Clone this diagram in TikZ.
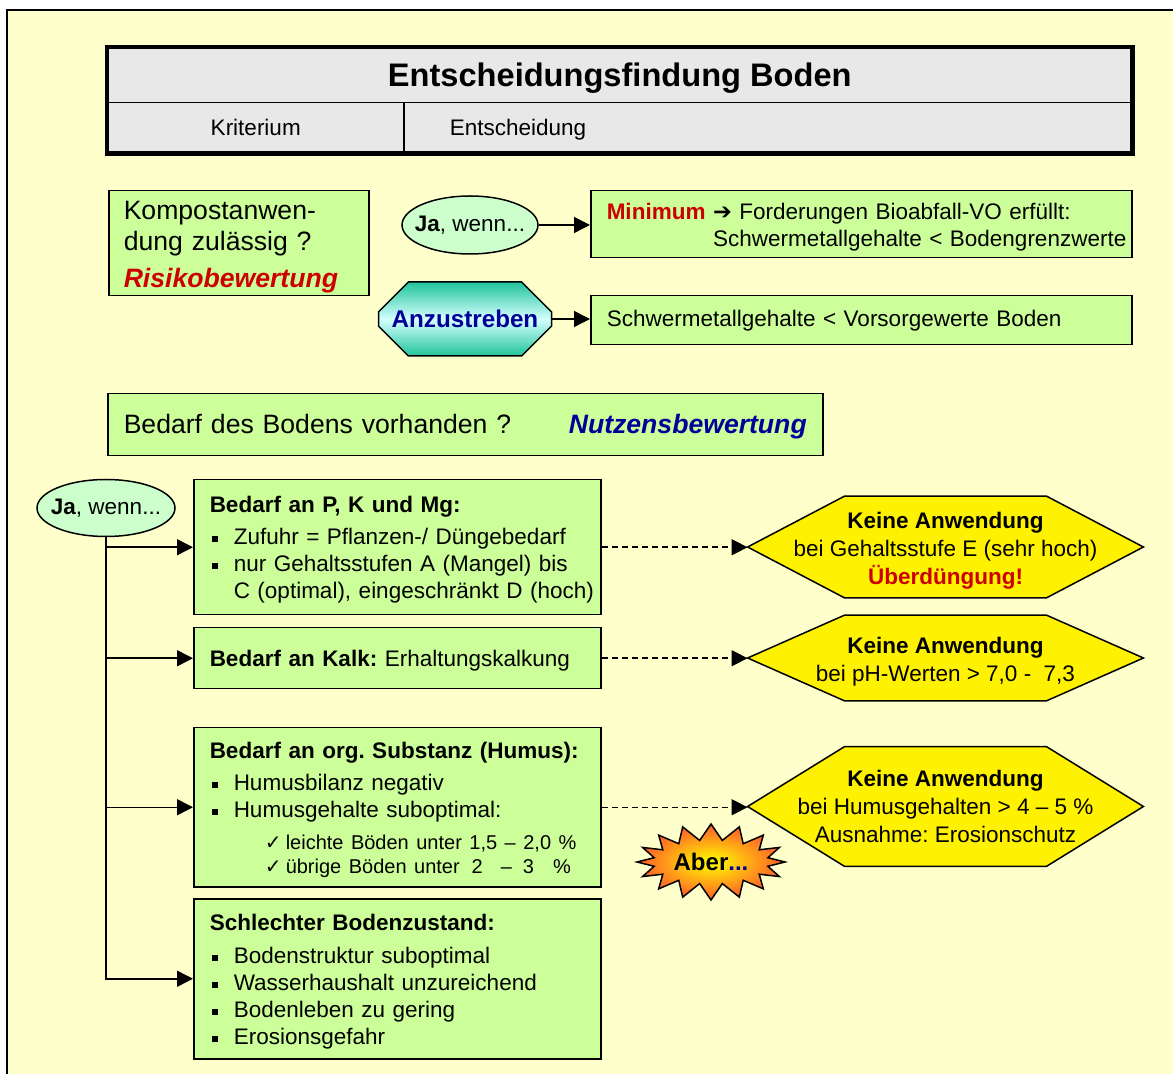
\documentclass[tikz,border=0pt]{standalone}
\usepackage{fontspec}
\setmainfont{Liberation Sans}
\newfontfamily\symfont{DejaVu Sans}
\usetikzlibrary{shapes,arrows.meta}

\definecolor{bgyellow}{HTML}{FFFFCC}
\definecolor{boxgreen}{HTML}{CCFF99}
\definecolor{ovalgreen}{HTML}{CCFFCC}
\definecolor{headgray}{HTML}{E8E8E8}
\definecolor{hired}{HTML}{CC0000}
\definecolor{hiblue}{HTML}{000099}
\definecolor{tealdark}{HTML}{20C49A}
\definecolor{cyanlight}{HTML}{D4FFFF}
\definecolor{burstout}{HTML}{FF5A2A}

\newcommand{\fs}{\fontsize{11.25pt}{13.5pt}\selectfont}
\newcommand{\bigfs}{\fontsize{13.3pt}{15.5pt}\selectfont}
\newcommand{\smallfs}{\fontsize{10pt}{12pt}\selectfont}
\newcommand{\titlefs}{\fontsize{16.3pt}{19pt}\selectfont\bfseries}
\newcommand{\bul}{\makebox[12pt][l]{\hspace*{1pt}\rule[1.3pt]{3pt}{3pt}}}
\newcommand{\chk}{\makebox[10.5pt][l]{\symfont ✓}}
\newcommand{\topstrut}{\rule{0pt}{10.8pt}}
\frenchspacing

\pgfdeclarelayer{back}
\pgfdeclarelayer{mid}
\pgfsetlayers{back,mid,main}

\tikzset{
  cell/.style={draw,line width=0.75pt,fill=headgray,anchor=north west,inner sep=0pt,text height=8.2pt,text depth=0pt,font=\fs},
  box/.style={draw,line width=0.75pt,fill=boxgreen,anchor=north west,align=left,inner xsep=8pt,inner ysep=0pt,font=\fs},
  jaoval/.style={ellipse,draw,line width=0.75pt,fill=ovalgreen,inner sep=0pt,minimum width=68pt,minimum height=29pt,font=\fs},
  octa/.style={chamfered rectangle,chamfered rectangle xsep=10.5pt,chamfered rectangle ysep=10.5pt,draw,line width=0.75pt,
    top color=tealdark,bottom color=tealdark,middle color=cyanlight,minimum width=86.5pt,minimum height=37pt,inner sep=0pt,
    font=\fontsize{12.1pt}{14pt}\selectfont\bfseries,text=hiblue},
  hexa/.style={minimum width=197.5pt,inner sep=0pt,align=center,font=\fontsize{11.25pt}{14pt}\selectfont},
  hexline/.style={draw,line width=0.75pt,fill=yellow},
  burst/.style={starburst,starburst points=16,starburst point height=8pt,random starburst=0,draw,line width=0.75pt,
    inner color=yellow,outer color=burstout,minimum width=74pt,minimum height=38pt,inner sep=0pt,
    font=\fontsize{12pt}{14pt}\selectfont\bfseries},
  arr/.style={line width=0.75pt,-{Triangle[length=8pt,width=8pt]}},
  darr/.style={arr,dash pattern=on 3pt off 2pt}
}

\begin{document}
\begin{tikzpicture}[x=0.5pt,y=-0.5pt]
\useasboundingbox (0,0) rectangle (1173,1074);
\clip (0,0) rectangle (1173,1074);
\begin{pgfonlayer}{back}
\draw[line width=1pt,fill=bgyellow] (7,10) rectangle (1200,1100);
\end{pgfonlayer}

% Kopf
\node[cell,minimum width=512pt,minimum height=27.5pt,text height=11.7pt,font=\titlefs] (title) at (107,47) {Entscheidungsfindung Boden};
\node[cell,minimum width=148pt,minimum height=25pt] (krit) at (107,102) {Kriterium};
\node[cell,minimum width=364pt,minimum height=25pt,text width=318pt,align=left,inner xsep=23pt] (entsch) at (403,102) {Entscheidung};
\draw[line width=2.2pt] (title.north west) rectangle (entsch.south east);

% Risiko
\node[box,text width=115pt,inner xsep=7.5pt,minimum height=52.5pt,font=\bigfs] (kompost) at (108,190)
  {\rule{0pt}{13pt}Kompostanwen-\\dung zulässig ?\\[3pt]\textcolor{hired}{\textbf{\textit{Risikobewertung}}}};
\node[jaoval] (ja1) at (470,225) {\makebox[0pt]{\textbf{Ja}, wenn...}};
\node[box,text width=254.5pt,minimum height=33.5pt] (minimum) at (590,190)
  {\topstrut\textcolor{hired}{\textbf{Minimum}} {\symfont ➔} Forderungen Bioabfall-VO erfüllt:\\
   \mbox{\phantom{\textbf{Minimum} }Schwermetallgehalte < Bodengrenzwerte}};
\node[octa] (anz) at (465,319) {Anzustreben};
\node[box,text width=254.5pt,minimum height=24.5pt] (vorsorge) at (590,295) {Schwermetallgehalte < Vorsorgewerte Boden};
\draw[arr] (ja1.east) -- (ja1.east -| minimum.west);
\draw[arr] (anz.east) -- (anz.east -| vorsorge.west);

% Nutzen
\node[box,text width=341.5pt,minimum height=31pt,font=\bigfs] (bedarf) at (107,393)
  {\rule{0pt}{12pt}Bedarf des Bodens vorhanden ?\hfill\textcolor{hiblue}{\textbf{\textit{Nutzensbewertung}}}};
\node[jaoval,minimum width=69pt,minimum height=28.5pt] (ja2) at (106,508) {\makebox[0pt]{\textbf{Ja}, wenn...}};

\node[box,text width=187.5pt,minimum height=67.5pt] (pkm) at (193,479)
  {\topstrut\textbf{Bedarf an P, K und Mg:}\\[2.5pt]
   \bul Zufuhr = Pflanzen-/ Düngebedarf\\
   \bul nur Gehaltsstufen A (Mangel) bis\\
   \mbox{\hspace*{12pt}C (optimal), eingeschränkt D (hoch)}};
\node[box,text width=187.5pt,minimum height=30.5pt] (kalk) at (193,627)
  {\topstrut\textbf{Bedarf an Kalk:} Erhaltungskalkung};
\node[box,text width=187.5pt,minimum height=79.5pt] (humus) at (193,727)
  {\topstrut\textbf{Bedarf an org. Substanz (Humus):}\\[2.5pt]
   \bul Humusbilanz negativ\\
   \bul Humusgehalte suboptimal:\\[2.5pt]
   {\smallfs\hspace*{27.5pt}\chk leichte Böden unter 1,5 – 2,0 \%}\\[-1.5pt]
   {\smallfs\hspace*{27.5pt}\chk übrige Böden unter\hspace{6pt}2\hspace{9pt}–\hspace{5.5pt}3\hspace{9.5pt}\%}};
\node[box,text width=187.5pt,minimum height=80pt] (zustand) at (193,898)
  {\rule{0pt}{11.5pt}\textbf{Schlechter Bodenzustand:}\\[3pt]
   \bul Bodenstruktur suboptimal\\
   \bul Wasserhaushalt unzureichend\\
   \bul Bodenleben zu gering\\
   \bul Erosionsgefahr};

% Keine Anwendung
\node[hexa,minimum height=50.5pt] (keinepk) at (945.5,547)
  {\rule{0pt}{11.5pt}\textbf{Keine Anwendung}\\bei Gehaltsstufe E (sehr hoch)\\\textcolor{hired}{\textbf{Überdüngung!}}};
\node[hexa,minimum height=42.5pt] (keinekalk) at (945.5,658)
  {\rule{0pt}{11.5pt}\textbf{Keine Anwendung}\\bei pH-Werten > 7,0 -\ \ 7,3};
\node[hexa,minimum height=59.5pt] (keinehumus) at (945.5,806.5)
  {\textbf{Keine Anwendung}\\bei Humusgehalten > 4 – 5 \%\\Ausnahme: Erosionschutz};
\begin{pgfonlayer}{mid}
\foreach \h in {keinepk,keinekalk,keinehumus}
  \draw[hexline] (\h.west) -- ([xshift=48.5pt]\h.north west) -- ([xshift=-48.5pt]\h.north east)
    -- (\h.east) -- ([xshift=-48.5pt]\h.south east) -- ([xshift=48.5pt]\h.south west) -- cycle;
\end{pgfonlayer}
\node[burst] (aber) at (711,862) {Aber\textcolor{hiblue}{...}};

\draw[arr] (ja2.south) |- (pkm.west);
\draw[arr] (ja2.south) |- (kalk.west);
\draw[arr] (ja2.south) |- (humus.west);
\draw[arr] (ja2.south) |- (zustand.west);
\draw[darr] (pkm.east) -- (pkm.east -| keinepk.west);
\draw[darr] (kalk.east) -- (kalk.east -| keinekalk.west);
\draw[darr] (humus.east) -- (humus.east -| keinehumus.west);
\end{tikzpicture}
\end{document}
